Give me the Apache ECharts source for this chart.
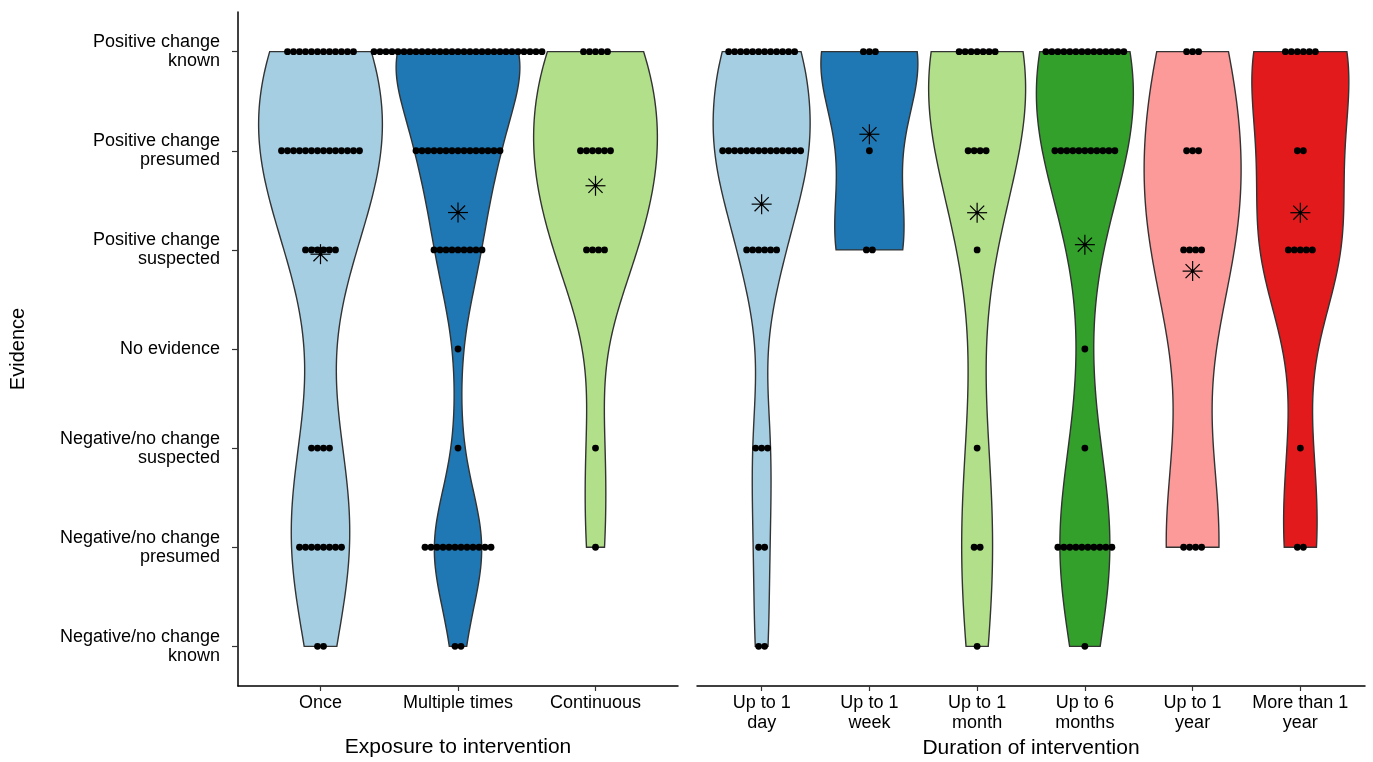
<!DOCTYPE html>
<html>
<head>
<meta charset="utf-8">
<script src="https://cdn.jsdelivr.net/npm/echarts@6/dist/echarts.min.js"></script>
<style>
  html, body { margin: 0; padding: 0; background: #ffffff; }
  #chart { width: 1373px; height: 762px; }
</style>
</head>
<body>
<div id="chart"></div>
<script>
// Evidence levels, value 1 (bottom) .. 7 (top)
const evidenceLevels = [
  'Negative/no change\nknown',
  'Negative/no change\npresumed',
  'Negative/no change\nsuspected',
  'No evidence',
  'Positive change\nsuspected',
  'Positive change\npresumed',
  'Positive change\nknown'
];

const exposureCats = ['Once', 'Multiple times', 'Continuous'];
const durationCats = ['Up to 1\nday', 'Up to 1\nweek', 'Up to 1\nmonth', 'Up to 6\nmonths', 'Up to 1\nyear', 'More than 1\nyear'];

// Number of studies per evidence level (index 0 = level 1 ... index 6 = level 7)
const exposureCounts = [
  [2, 8, 4, 0, 6, 14, 12],   // Once
  [2, 12, 1, 1, 9, 15, 29],  // Multiple times
  [0, 1, 1, 0, 4, 6, 5]      // Continuous
];
const durationCounts = [
  [2, 2, 3, 0, 6, 14, 12],   // Up to 1 day
  [0, 0, 0, 0, 2, 1, 3],     // Up to 1 week
  [1, 2, 1, 0, 1, 4, 7],     // Up to 1 month
  [1, 10, 1, 1, 0, 11, 14],  // Up to 6 months
  [0, 4, 0, 0, 4, 3, 3],     // Up to 1 year
  [0, 2, 1, 0, 5, 2, 6]      // More than 1 year
];

const paired = ['#A6CEE3', '#1F78B4', '#B2DF8A', '#33A02C', '#FB9A99', '#E31A1C'];
const FONT = "'Liberation Sans', Arial, Helvetica, sans-serif";

// ---- statistics helpers -------------------------------------------------
function expand(counts) {
  const v = [];
  counts.forEach((c, i) => { for (let k = 0; k < c; k++) v.push(i + 1); });
  return v;
}
function quantile7(sorted, p) {
  const h = (sorted.length - 1) * p;
  const lo = Math.floor(h), hi = Math.ceil(h);
  return sorted[lo] + (h - lo) * (sorted[hi] - sorted[lo]);
}
function bwNrd0(x) {
  const n = x.length;
  const m = x.reduce((a, b) => a + b, 0) / n;
  const sd = Math.sqrt(x.reduce((a, b) => a + (b - m) * (b - m), 0) / (n - 1));
  const s = x.slice().sort((a, b) => a - b);
  const iqr = quantile7(s, 0.75) - quantile7(s, 0.25);
  let lo = Math.min(sd, iqr / 1.34);
  if (!lo) lo = sd || Math.abs(x[0]) || 1;
  return 0.9 * lo * Math.pow(n, -0.2);
}
// Gaussian KDE trimmed to data range; widths normalised to 1 at the max
function violinProfile(counts) {
  const x = expand(counts);
  const bw = bwNrd0(x);
  const lo = Math.min(...x), hi = Math.max(...x);
  const steps = 160, prof = [];
  let maxD = 0;
  for (let i = 0; i <= steps; i++) {
    const y = lo + (hi - lo) * i / steps;
    let d = 0;
    for (const xi of x) { const z = (y - xi) / bw; d += Math.exp(-0.5 * z * z); }
    prof.push([y, d]);
    if (d > maxD) maxD = d;
  }
  return prof.map(p => [p[0], p[1] / maxD]);
}
function meanOf(counts) {
  const x = expand(counts);
  return x.reduce((a, b) => a + b, 0) / x.length;
}

// ---- series builders ----------------------------------------------------
function violinSeries(countsList, axisIdx) {
  const profiles = countsList.map(violinProfile);
  return {
    type: 'custom',
    xAxisIndex: axisIdx, yAxisIndex: axisIdx,
    z: 1,
    data: countsList.map((c, i) => [i + 1]),
    encode: { x: 0 },
    renderItem: function (params, api) {
      const idx = params.dataIndex;
      const cx = api.value(0);
      const prof = profiles[idx];
      const half = 0.45;
      const pts = [];
      for (const p of prof) pts.push(api.coord([cx + p[1] * half, p[0]]));
      for (let i = prof.length - 1; i >= 0; i--) pts.push(api.coord([cx - prof[i][1] * half, prof[i][0]]));
      return {
        type: 'polygon',
        shape: { points: pts },
        style: { fill: paired[idx], stroke: '#333333', lineWidth: 1.4 }
      };
    }
  };
}

function dotSeries(countsList, axisIdx) {
  const data = [];
  countsList.forEach((counts, ci) => counts.forEach((n, li) => { if (n > 0) data.push([ci + 1, li + 1, n]); }));
  return {
    type: 'custom',
    xAxisIndex: axisIdx, yAxisIndex: axisIdx,
    z: 2,
    data: data,
    encode: { x: 0, y: 1 },
    renderItem: function (params, api) {
      const c = api.coord([api.value(0), api.value(1)]);
      const n = api.value(2);
      const step = 6.0;
      const children = [];
      for (let k = 0; k < n; k++) {
        children.push({
          type: 'circle',
          shape: { cx: c[0] + (k - (n - 1) / 2) * step, cy: c[1], r: 3.4 },
          style: { fill: '#000000' }
        });
      }
      return { type: 'group', children: children };
    }
  };
}

function meanSeries(countsList, axisIdx) {
  return {
    type: 'custom',
    xAxisIndex: axisIdx, yAxisIndex: axisIdx,
    z: 3,
    data: countsList.map((c, i) => [i + 1, meanOf(c)]),
    encode: { x: 0, y: 1 },
    renderItem: function (params, api) {
      const c = api.coord([api.value(0), api.value(1)]);
      const r = 10;
      const d = r * Math.SQRT1_2;
      const segs = [[0, -r, 0, r], [-r, 0, r, 0], [-d, -d, d, d], [-d, d, d, -d]];
      const children = segs.map(s => ({
        type: 'line',
        shape: { x1: c[0] + s[0], y1: c[1] + s[1], x2: c[0] + s[2], y2: c[1] + s[3] },
        style: { stroke: '#000000', lineWidth: 1.2 }
      }));
      children.push({ type: 'circle', shape: { cx: c[0], cy: c[1], r: 1.8 }, style: { fill: '#000000' } });
      return { type: 'group', children: children };
    }
  };
}

// ---- axes ---------------------------------------------------------------
function xAxisDef(gridIndex, cats, title) {
  const ticks = cats.map((c, i) => i + 1);
  return {
    type: 'value', gridIndex: gridIndex,
    min: 0.4, max: cats.length + 0.6,
    axisLine: { show: true, onZero: false, lineStyle: { color: '#000000', width: 1.5 } },
    axisTick: { show: true, customValues: ticks, length: 5, lineStyle: { color: '#333333', width: 1.2 } },
    axisLabel: {
      customValues: ticks,
      formatter: v => cats[Math.round(v) - 1],
      color: '#000000', fontSize: 18, lineHeight: 20, margin: 7, fontFamily: FONT
    },
    splitLine: { show: false },
    name: title, nameLocation: 'middle', nameGap: 51,
    nameTextStyle: { color: '#000000', fontSize: 21, fontFamily: FONT }
  };
}

const levelTicks = evidenceLevels.map((l, i) => i + 1);

const option = {
  backgroundColor: '#ffffff',
  animation: false,
  grid: [
    { left: 238, top: 12, width: 440, height: 674, containLabel: false, outerBoundsMode: 'none' },
    { left: 697, top: 12, width: 668, height: 674, containLabel: false, outerBoundsMode: 'none' }
  ],
  xAxis: [
    xAxisDef(0, exposureCats, 'Exposure to intervention'),
    xAxisDef(1, durationCats, 'Duration of intervention')
  ],
  yAxis: [
    {
      type: 'value', gridIndex: 0, min: 0.6, max: 7.4,
      axisLine: { show: true, onZero: false, lineStyle: { color: '#000000', width: 1.5 } },
      axisTick: { show: true, customValues: levelTicks, length: 6, lineStyle: { color: '#333333', width: 1.2 } },
      axisLabel: {
        customValues: levelTicks,
        formatter: v => evidenceLevels[Math.round(v) - 1],
        color: '#000000', fontSize: 18, lineHeight: 19, margin: 18, align: 'right', fontFamily: FONT
      },
      splitLine: { show: false },
      name: 'Evidence', nameLocation: 'middle', nameRotate: 90, nameGap: 210,
      nameTextStyle: { color: '#000000', fontSize: 20, fontFamily: FONT }
    },
    {
      type: 'value', gridIndex: 1, min: 0.6, max: 7.4,
      axisLine: { show: false }, axisTick: { show: false }, axisLabel: { show: false },
      splitLine: { show: false }
    }
  ],
  series: [
    violinSeries(exposureCounts, 0),
    dotSeries(exposureCounts, 0),
    meanSeries(exposureCounts, 0),
    violinSeries(durationCounts, 1),
    dotSeries(durationCounts, 1),
    meanSeries(durationCounts, 1)
  ]
};

const chart = echarts.init(document.getElementById('chart'), null, { renderer: 'canvas' });
chart.setOption(option);
</script>
</body>
</html>
